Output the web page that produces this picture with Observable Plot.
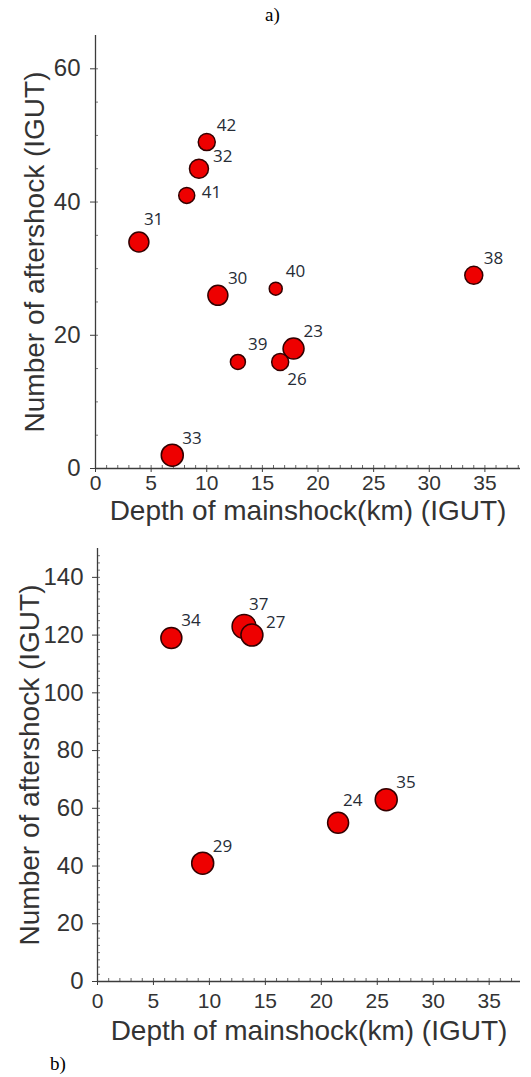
<!DOCTYPE html>
<html>
<head>
<meta charset="utf-8">
<script src="https://cdn.jsdelivr.net/npm/d3@7"></script>
<script src="https://cdn.jsdelivr.net/npm/@observablehq/plot@0.6"></script>
<style>
  html, body { margin: 0; padding: 0; background: #fff; }
  body { width: 531px; }
  .cap { font-family: "Liberation Serif", "DejaVu Serif", serif; font-size: 19px; color: #000; }
  #capA { height: 30px; line-height: 30px; text-align: center; padding-left: 14px; box-sizing: border-box; }
  #capB { height: 27px; line-height: 27px; padding-left: 50px; }
  svg { display: block; }
</style>
</head>
<body>
<div id="capA" class="cap">a)</div>
<div id="panelA"></div>
<div id="panelB"></div>
<div id="capB" class="cap">b)</div>
<script>
// ---- Panel a data ----
const idA = [42, 32, 41, 31, 38, 30, 40, 39, 26, 23, 33];
const depthA = [10.0, 9.3, 8.2, 3.9, 34.0, 11.0, 16.2, 12.8, 16.6, 17.8, 6.9];
const countA = [49, 45, 41, 34, 29, 26, 27, 16, 16, 18, 2];
const magA = [4.5, 4.7, 4.4, 4.8, 4.6, 4.8, 4.1, 4.3, 4.5, 4.9, 5.0];
const placeA = ["ne", "ene", "e", "n", "ne", "ne", "ne", "ne", "se", "ne", "ne"];

// ---- Panel b data ----
const idB = [34, 37, 27, 35, 24, 29];
const depthB = [6.6, 13.1, 13.8, 25.8, 21.5, 9.4];
const countB = [119, 123, 120, 63, 55, 41];
const magB = [4.9, 5.2, 5.0, 5.0, 4.9, 5.0];
const placeB = ["ne", "n", "ene", "ne", "n", "ne"];

// ---- tick labels ----
const xTicks = [0, 5, 10, 15, 20, 25, 30, 35];
const yTicksA = [0, 20, 40, 60];
const yTicksB = [0, 20, 40, 60, 80, 100, 120, 140];

const xTitle = "Depth of mainshock(km) (IGUT)";
const yTitle = "Number of aftershock (IGUT)";

const placements = {
  ne: {dx: 10, dy: -17},
  n: {dx: 5, dy: -22},
  ene: {dx: 14, dy: -12.5},
  e: {dx: 15, dy: -2.5},
  se: {dx: 7, dy: 17.5}
};

function rows(ids, xs, ys, ms, ps) {
  return ids.map((id, i) => ({id: String(id), depth: xs[i], count: ys[i], mag: ms[i], place: ps[i]}));
}

function panel(data, o) {
  const axisColor = "#3c3c3c";
  const labelMarks = Object.keys(placements).map(p =>
    Plot.text(data.filter(d => d.place === p), {
      x: "depth", y: "count", text: "id",
      dx: placements[p].dx, dy: placements[p].dy,
      textAnchor: "start", lineAnchor: "middle",
      fontSize: 17, fontFamily: "Open Sans", fill: "#262c36"
    })
  );
  return Plot.plot({
    width: 531,
    height: o.height,
    marginLeft: o.ml,
    marginRight: 11,
    marginTop: o.mt,
    marginBottom: o.mb,
    style: {fontFamily: "Liberation Sans, Arial, sans-serif", fontSize: "21px", color: "#333", background: "white", overflow: "visible"},
    x: {domain: [0, o.xmax]},
    y: {domain: [0, o.ymax]},
    r: {type: "linear", domain: [4, 5], range: [6, 11]},
    marks: [
      Plot.axisX({ticks: d3.range(0, Math.floor(o.xmax) + 1, 1), tickSize: -3, tickFormat: () => "", stroke: "#666", label: null}),
      Plot.axisY({ticks: d3.range(0, o.ymax, o.yminor), tickSize: -3, tickFormat: () => "", stroke: "#777", label: null}),
      Plot.axisX({ticks: xTicks, tickSize: 4, tickPadding: o.xpad, fontSize: 21, fill: "#333", stroke: axisColor, label: null}),
      Plot.axisY({ticks: o.yTicks, tickSize: 5, tickPadding: o.ypad, fontSize: 24, fill: "#333", stroke: axisColor, label: null}),
      Plot.ruleX([0], {stroke: axisColor, strokeWidth: 1.3}),
      Plot.ruleY([0], {stroke: axisColor, strokeWidth: 1.3}),
      Plot.text([xTitle], {frameAnchor: "bottom", text: d => d, dy: o.xtdy, lineAnchor: "middle", fontSize: 28, fill: "#333"}),
      Plot.text([yTitle], {frameAnchor: "left", text: d => d, dx: o.ytdx, rotate: -90, lineAnchor: "middle", textAnchor: "middle", fontSize: 28, fill: "#333"}),
      Plot.dot(data, {x: "depth", y: "count", r: "mag", fill: "#ee0000", stroke: "#330000", strokeWidth: 1.5}),
      ...labelMarks
    ]
  });
}

const dataA = rows(idA, depthA, countA, magA, placeA);
const dataB = rows(idB, depthB, countB, magB, placeB);

document.getElementById("panelA").append(panel(dataA, {
  height: 500, ml: 95, mt: 5, mb: 62, xmax: 38.2, ymax: 65, yTicks: yTicksA, yminor: 5,
  xpad: 3, ypad: 10, xtdy: 43, ytdx: -60
}));
document.getElementById("panelB").append(panel(dataB, {
  height: 520, ml: 97, mt: 18, mb: 69, xmax: 37.8, ymax: 150, yTicks: yTicksB, yminor: 2.5,
  xpad: 8, ypad: 9, xtdy: 50, ytdx: -67
}));
</script>
</body>
</html>
